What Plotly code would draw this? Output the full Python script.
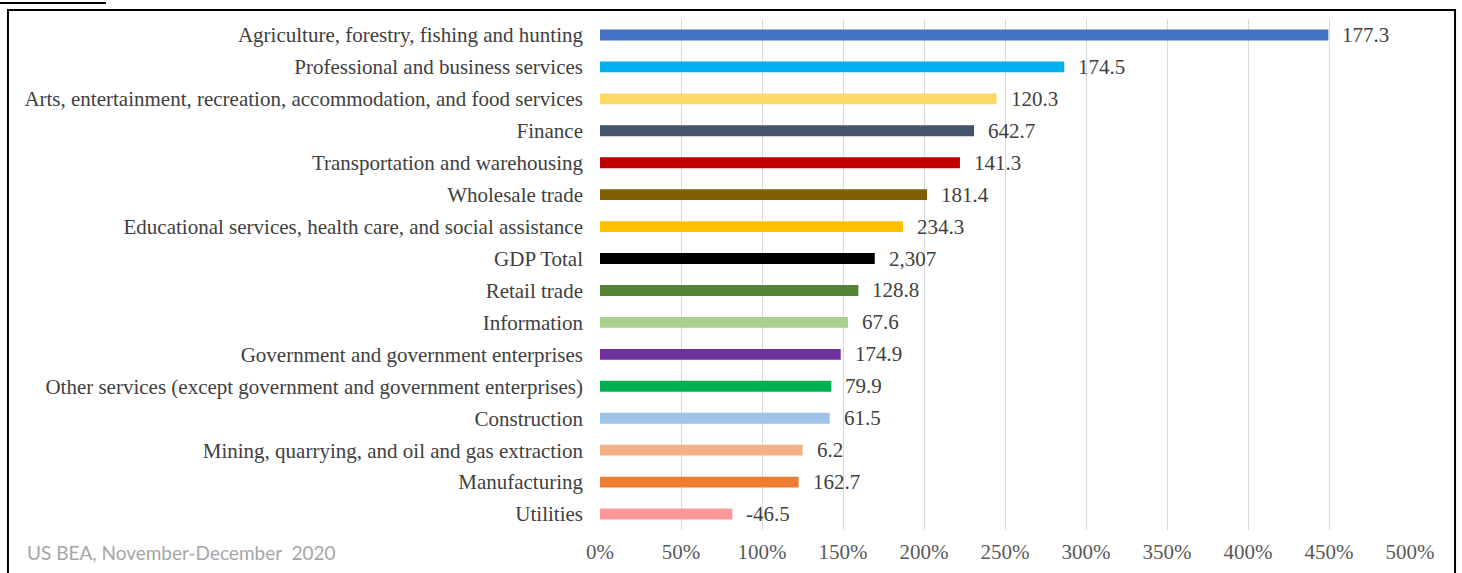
import plotly.graph_objects as go

categories = [
    "Agriculture, forestry, fishing and hunting",
    "Professional and business services",
    "Arts, entertainment, recreation, accommodation, and food services",
    "Finance",
    "Transportation and warehousing",
    "Wholesale trade",
    "Educational services, health care, and social assistance",
    "GDP Total",
    "Retail trade",
    "Information",
    "Government and government enterprises",
    "Other services (except government and government enterprises)",
    "Construction",
    "Mining, quarrying, and oil and gas extraction",
    "Manufacturing",
    "Utilities",
]
pct_values = [449.6, 286.6, 244.8, 230.9, 222.2, 201.9, 187.0, 169.6,
              159.5, 153.1, 148.6, 142.8, 141.8, 125.1, 122.6, 81.7]
value_labels = ["177.3", "174.5", "120.3", "642.7", "141.3", "181.4", "234.3", "2,307",
                "128.8", "67.6", "174.9", "79.9", "61.5", "6.2", "162.7", "-46.5"]
bar_colors = ["#4472C4", "#00B0F0", "#FFD966", "#44546A", "#C00000", "#7F6000",
              "#FFC000", "#000000", "#548235", "#A9D18E", "#7030A0", "#00B050",
              "#9DC3E6", "#F4B183", "#ED7D31", "#FF9999"]
x_ticks = [0, 50, 100, 150, 200, 250, 300, 350, 400, 450, 500]
x_tick_labels = [f"{t}%" for t in x_ticks]
source_text = "US BEA, November-December  2020"

SERIF = "Liberation Serif, Times New Roman, serif"

fig = go.Figure()
fig.add_trace(go.Bar(
    x=pct_values, y=categories, orientation="h",
    marker=dict(color=bar_colors, line=dict(width=0)),
    hoverinfo="skip",
))

for v, c, lab in zip(pct_values, categories, value_labels):
    fig.add_annotation(x=v, y=c, text=lab, showarrow=False, xanchor="left",
                       yanchor="middle", xshift=12,
                       font=dict(family=SERIF, size=21, color="#404040"))

fig.add_annotation(xref="paper", yref="paper", x=-0.7099, y=-0.045, text=source_text,
                   showarrow=False, xanchor="left", yanchor="middle",
                   font=dict(family="Lato, Liberation Sans, sans-serif", size=19, color="#A6A6A6"))

# outer frame and top-left underline
fig.add_shape(type="rect", xref="paper", yref="paper", x0=-0.7309, x1=1.0556,
              y0=-0.1, y1=1.0176, line=dict(color="black", width=2), layer="above")
fig.add_shape(type="line", xref="paper", yref="paper", x0=-0.745, x1=-0.6099,
              y0=1.0313, y1=1.0313, line=dict(color="black", width=2))

fig.update_layout(
    width=1462, height=573,
    margin=dict(l=600, r=52, t=19, b=43),
    paper_bgcolor="white", plot_bgcolor="white",
    showlegend=False, bargap=0.66,
    xaxis=dict(range=[0, 500], tickvals=x_ticks, ticktext=x_tick_labels,
               showgrid=True, gridcolor="#D9D9D9", gridwidth=1, zeroline=False,
               showline=False, ticks="", ticklabelstandoff=7, automargin=False,
               tickfont=dict(family=SERIF, size=21, color="#595959"),
               fixedrange=True),
    yaxis=dict(autorange="reversed", showgrid=False, zeroline=False, showline=False,
               ticks="", ticklabelstandoff=16, automargin=False,
               tickfont=dict(family=SERIF, size=21, color="#404040"),
               fixedrange=True),
)

fig.write_html("out.html")
